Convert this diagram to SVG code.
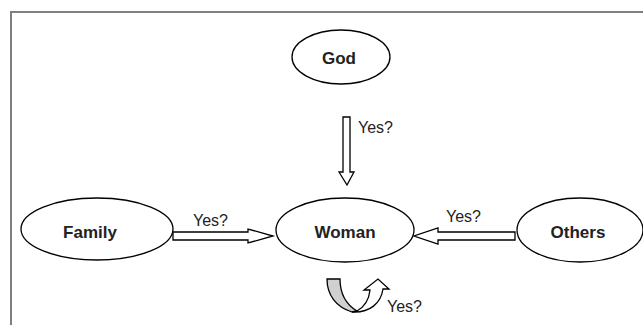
<svg xmlns="http://www.w3.org/2000/svg" width="643" height="325" viewBox="0 0 643 325">
<style>
.node{fill:#fff;stroke:#000;stroke-width:1.3}
.lbl{font-family:"Liberation Sans",Arial,sans-serif;font-size:17px;font-weight:bold;fill:#222;text-anchor:middle}
.yes{font-family:"Liberation Sans",Arial,sans-serif;font-size:16px;fill:#222}
.arr{fill:#fff;stroke:#000;stroke-width:1.3;stroke-linejoin:miter}
.frame{fill:none;stroke:#808080;stroke-width:2}
</style>
<rect x="0" y="0" width="643" height="325" fill="#fff"/>
<path class="frame" d="M11,325 L11,12 L643,12"/>
<g id="god"><ellipse class="node" cx="341" cy="57" rx="49" ry="27"/><text class="lbl" x="339" y="64">God</text></g>
<g id="family"><ellipse class="node" cx="97" cy="229" rx="76" ry="31"/><text class="lbl" x="90" y="238">Family</text></g>
<g id="woman"><ellipse class="node" cx="345" cy="230" rx="69" ry="32"/><text class="lbl" x="345" y="238">Woman</text></g>
<g id="others"><ellipse class="node" cx="580" cy="230" rx="63" ry="32"/><text class="lbl" x="578" y="238">Others</text></g>
<g id="connectors">
<path class="arr" d="M343,117 L350,117 L350,172 L354,172 L347,185 L339,172 L343,172 Z"/>
<text class="yes" x="358" y="133">Yes?</text>
<path class="arr" d="M173,232 L248,232 L248,229 L273,236 L248,243 L248,240 L173,240 Z"/>
<text class="yes" x="193" y="226">Yes?</text>
<path class="arr" d="M515,232 L438,232 L438,228 L414,236 L438,244 L438,240 L515,240 Z"/>
<text class="yes" x="446" y="222">Yes?</text>
<path fill="#d0d0d0" stroke="#000" stroke-width="1.3" d="M327,279 L340,279 C340,296 347,305 357,311 L352,312 C336,307 327,295 327,279 Z"/>
<path class="arr" d="M352,312 C370,313 381,303 383,289 L389,289 L378,279 L364,290 L370,290 C369,300 364,307 357,311 Z"/>
<text class="yes" x="387" y="312">Yes?</text>
</g>
</svg>
